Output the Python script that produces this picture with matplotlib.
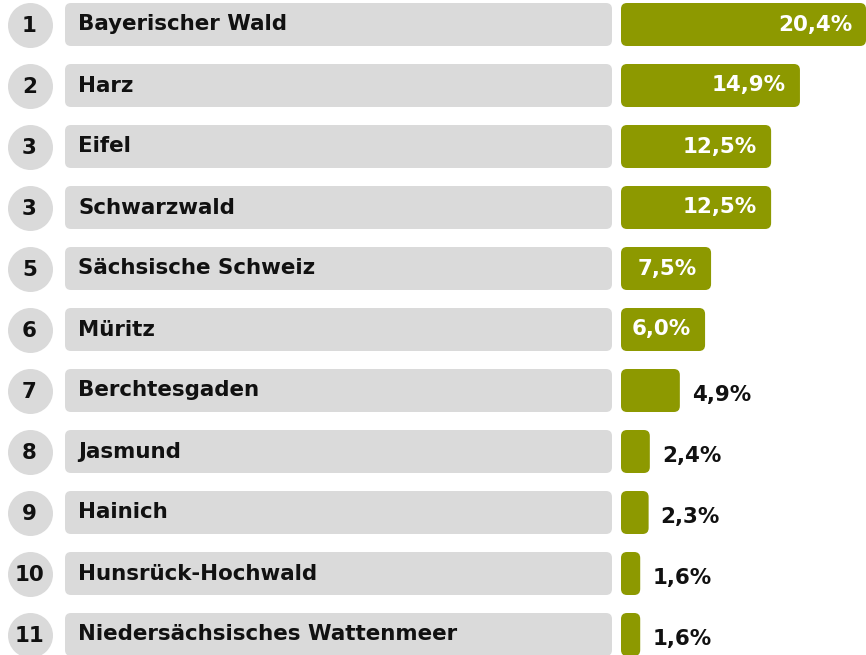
import numpy as np
import matplotlib
matplotlib.use("Agg")
import matplotlib.pyplot as plt
from matplotlib.patches import FancyBboxPatch

ranks = ["1", "2", "3", "3", "5", "6", "7", "8", "9", "10", "11"]
names = ["Bayerischer Wald", "Harz", "Eifel", "Schwarzwald", "Sächsische Schweiz",
         "Müritz", "Berchtesgaden", "Jasmund", "Hainich", "Hunsrück-Hochwald",
         "Niedersächsisches Wattenmeer"]
values = np.array([20.4, 14.9, 12.5, 12.5, 7.5, 6.0, 4.9, 2.4, 2.3, 1.6, 1.6])

GRAY = "#dadada"
OLIVE = "#8d9900"
W, H = 866, 655
ROW_PX = 61
BAR_H = 43 / ROW_PX
FS = 15.4
n = len(names)
ylim = (-24.5 / ROW_PX, (H - 24.5) / ROW_PX)

plt.rcParams['font.family'] = ['DejaVu Sans']
fig = plt.figure(figsize=(W / 100, H / 100), dpi=100)

# left part: rank circles + name boxes (x in pixels)
ax = fig.add_axes([0, 0, 1, 1])
ax.set_xlim(0, W)
ax.set_ylim(ylim[1], ylim[0])
ax.axis('off')
rows = np.arange(n)
ax.scatter(np.full(n, 29.5), rows, s=(45 * 0.72) ** 2, color=GRAY, linewidths=0)
for i in range(n):
    ax.add_patch(FancyBboxPatch((65, i - BAR_H / 2), 547, BAR_H,
                                boxstyle="round,pad=0,rounding_size=6",
                                mutation_aspect=1 / ROW_PX,
                                facecolor=GRAY, edgecolor='none'))
    ax.text(29.5, i + 0.02, ranks[i], ha='center', va='center', fontsize=FS,
            fontweight='bold', color='#111111')
    ax.text(78, i, names[i], ha='left', va='center', fontsize=FS,
            fontweight='bold', color='#111111')

# right part: bars
bx = fig.add_axes([621 / W, 0, 245 / W, 1])
bx.set_xlim(0, values.max())
bx.set_ylim(ylim[1], ylim[0])
bx.axis('off')
x_per_px = values.max() / 245
inside = values >= 6
bar_len = np.where(inside, np.maximum(values, 7.0), values)
for i in range(n):
    bx.add_patch(FancyBboxPatch((0, i - BAR_H / 2), bar_len[i], BAR_H,
                                boxstyle="round,pad=0,rounding_size=%f" % (6 * x_per_px),
                                mutation_aspect=(1 / ROW_PX) / x_per_px,
                                facecolor=OLIVE, edgecolor='none'))
    label = f"{values[i]:.1f}".replace('.', ',') + '%'
    if inside[i]:
        bx.annotate(label, (bar_len[i], i), xytext=(-10, 0), textcoords='offset points',
                    ha='right', va='center', fontsize=FS, fontweight='bold',
                    color='white', annotation_clip=False)
    else:
        bx.annotate(label, (bar_len[i], i + 0.07), xytext=(8.6, 0), textcoords='offset points',
                    ha='left', va='center', fontsize=FS, fontweight='bold',
                    color='#111111', annotation_clip=False)

fig.savefig("out.png", dpi=100)
